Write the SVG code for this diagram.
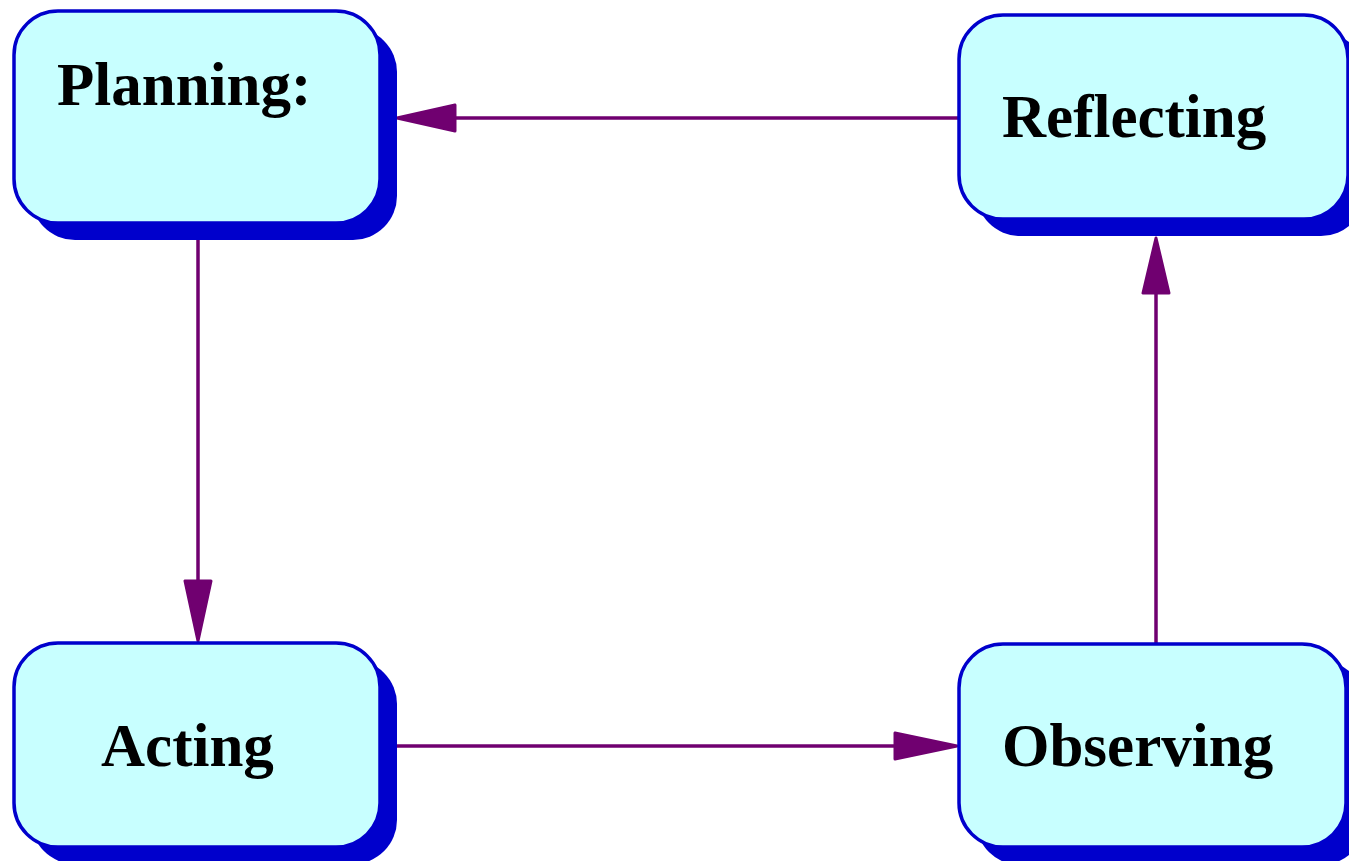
<svg xmlns="http://www.w3.org/2000/svg" width="1349" height="861" viewBox="0 0 1349 861">
<style>
.shadow{fill:#0000cc;stroke:none}
.box{fill:#c8ffff;stroke:#0000cc;stroke-width:3.5}
.lbl{font-family:"Liberation Serif","Times New Roman",serif;font-weight:bold;font-size:61px;fill:#000}
.edge{stroke:#700070;stroke-width:3.5;fill:none}
.head{fill:#700070;stroke:#700070;stroke-width:3;stroke-linejoin:round}
</style>
<rect width="1349" height="861" fill="#fff"/>
<g id="connectors">
<line class="edge" x1="959" y1="118" x2="440" y2="118"/>
<polygon class="head" points="397,118 455,105 455,131"/>
<line class="edge" x1="198" y1="240" x2="198" y2="600"/>
<polygon class="head" points="198,641 185,581 211,581"/>
<line class="edge" x1="396" y1="746" x2="910" y2="746"/>
<polygon class="head" points="957,746 895,733 895,759"/>
<line class="edge" x1="1156" y1="644" x2="1156" y2="280"/>
<polygon class="head" points="1156,238 1143,293 1169,293"/>
</g>
<g id="planning">
<rect class="shadow" x="31" y="28" width="366" height="212" rx="44"/>
<rect class="box" x="14" y="11" width="366" height="212" rx="44"/>
<text class="lbl" x="57" y="105">Planning:</text>
</g>
<g id="reflecting">
<rect class="shadow" x="976" y="32" width="389" height="204" rx="44"/>
<rect class="box" x="959" y="15" width="389" height="204" rx="44"/>
<text class="lbl" x="1002" y="137">Reflecting</text>
</g>
<g id="acting">
<rect class="shadow" x="31" y="660" width="366" height="204" rx="44"/>
<rect class="box" x="14" y="643" width="366" height="204" rx="44"/>
<text class="lbl" x="101" y="766">Acting</text>
</g>
<g id="observing">
<rect class="shadow" x="976" y="661" width="389" height="204" rx="44"/>
<rect class="box" x="959" y="644" width="387" height="203" rx="44"/>
<text class="lbl" x="1002" y="766">Observing</text>
</g>
</svg>
